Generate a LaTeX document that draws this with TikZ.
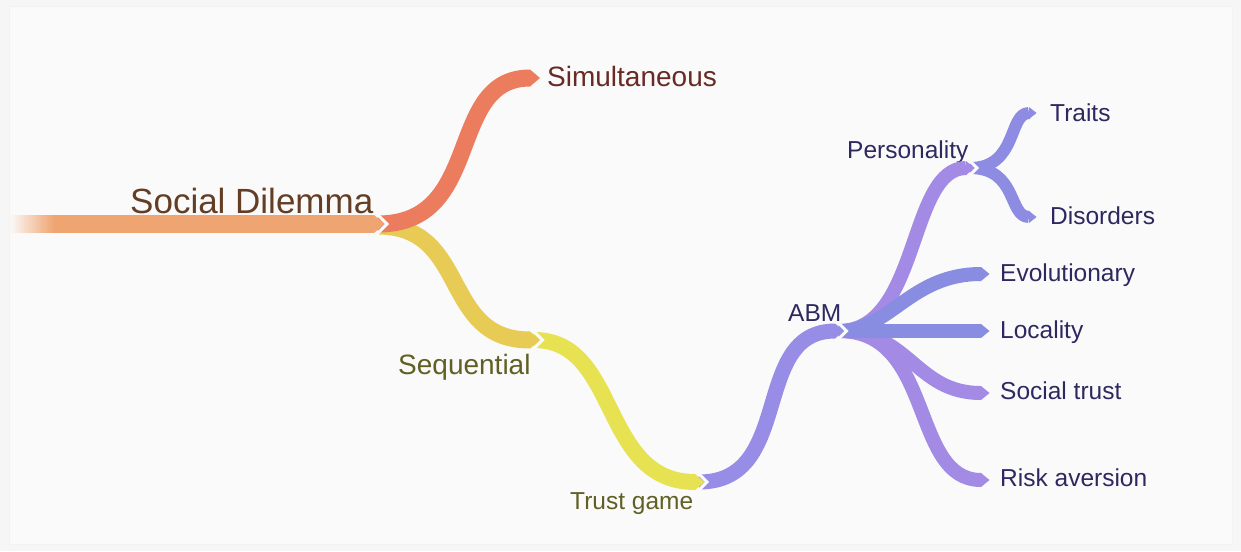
\documentclass[tikz,border=0pt]{standalone}
\usepackage{fontspec}
\setmainfont{Liberation Sans}
\usetikzlibrary{calc}

% palette
\definecolor{bgout}{RGB}{246,246,246}
\definecolor{bg}{RGB}{250,250,250}
\definecolor{frame}{RGB}{242,242,242}
\definecolor{rootc}{RGB}{239,165,113}
\definecolor{simc}{RGB}{236,124,94}
\definecolor{seqc}{RGB}{231,203,84}
\definecolor{tgc}{RGB}{231,226,82}
\definecolor{abmc}{RGB}{152,141,230}
\definecolor{purc}{RGB}{163,138,228}
\definecolor{bluc}{RGB}{136,141,226}
\definecolor{trc}{RGB}{141,140,226}
\definecolor{rootTxt}{RGB}{100,62,36}
\definecolor{simTxt}{RGB}{104,42,36}
\definecolor{seqTxt}{RGB}{96,96,36}
\definecolor{abmTxt}{RGB}{46,40,96}

\tikzset{
  branch/.style={line cap=butt, line join=round},
  lbl/.style={inner sep=0pt, anchor=base west},
  big/.style={font=\fontsize{35}{40}\selectfont},
  mid/.style={font=\fontsize{28}{32}\selectfont},
  small/.style={font=\fontsize{24.5}{28}\selectfont},
}

% pointed end of a branch: #1 coordinate name, #2 half width, #3 colour
\newcommand\brtip[3]{%
  \fill[#3] ([yshift=#2 pt]#1) -- ([xshift=#2 pt+1.5pt]#1) -- ([yshift=-#2 pt]#1) -- cycle;}
% thin gap between a tip and the notched start of its sub-branches
\newcommand\brgap[2]{%
  \draw[bg, line width=3pt, line join=miter]
    ([xshift=2.6pt, yshift=#2 pt+1.5pt]#1) -- ([xshift=#2 pt+4.1pt]#1)
    -- ([xshift=2.6pt, yshift=-#2 pt-1.5pt]#1);}

\begin{document}
\begin{tikzpicture}[x=1pt, y=-1pt]
  \useasboundingbox (0,0) rectangle (1241,551);
  \fill[bgout] (0,0) rectangle (1241,551);
  \fill[bg, draw=frame, line width=1pt] (9,7) rectangle (1232,544);

  % junction and end points of the branches
  \coordinate (r-start)   at (54,224);
  \coordinate (r-end)     at (374,224);
  \coordinate (sim-start) at (378,224);
  \coordinate (sim-end)   at (530,78);
  \coordinate (seq-start) at (378,226);
  \coordinate (seq-end)   at (530,340);
  \coordinate (tg-start)  at (534,340);
  \coordinate (tg-end)    at (695,482);
  \coordinate (abm-start) at (699,482);
  \coordinate (abm-end)   at (835,331);
  \coordinate (abm-out)   at (839,331);
  \coordinate (per-end)   at (966,168);
  \coordinate (per-out)   at (970,168);
  \coordinate (tra-end)   at (1029,113);
  \coordinate (dis-end)   at (1029,217);
  \coordinate (evo-end)   at (981,274);
  \coordinate (loc-end)   at (981,331);
  \coordinate (soc-end)   at (981,393);
  \coordinate (risk-end)  at (981,480);

  % labels
  \node[lbl, big, text=rootTxt]   (social) at (130,213) {Social Dilemma};
  \node[lbl, mid, text=simTxt]    (simul)  at (547,86)  {Simultaneous};
  \node[lbl, mid, text=seqTxt]    (seq)    at (398,374) {Sequential};
  \node[lbl, small, text=seqTxt]  (trust)  at (570,509) {Trust game};
  \node[lbl, small, text=abmTxt]  (abm)    at (788,321) {ABM};
  \node[lbl, small, text=abmTxt]  (pers)   at (847,158) {Personality};
  \node[lbl, small, text=abmTxt]  (traits) at (1050,121) {Traits};
  \node[lbl, small, text=abmTxt]  (disord) at (1050,224) {Disorders};
  \node[lbl, small, text=abmTxt]  (evo)    at (1000,281) {Evolutionary};
  \node[lbl, small, text=abmTxt]  (loc)    at (1000,338) {Locality};
  \node[lbl, small, text=abmTxt]  (soc)    at (1000,399) {Social trust};
  \node[lbl, small, text=abmTxt]  (risk)   at (1000,486) {Risk aversion};

  % branches, outermost first so each parent lies over its children
  \draw[branch, trc, line width=12pt] (per-out) .. controls (1018,168) and (1008,113) .. (tra-end);
  \draw[branch, trc, line width=12pt] (per-out) .. controls (1018,168) and (1008,217) .. (dis-end);
  \draw[branch, purc, line width=14pt] (abm-out) .. controls (920,331) and (908,168) .. (per-end);
  \draw[branch, purc, line width=14pt] (abm-out) .. controls (935,331) and (910,480) .. (risk-end);
  \draw[branch, purc, line width=14pt] (abm-out) .. controls (910,331) and (915,393) .. (soc-end);
  \draw[branch, bluc, line width=14pt] (abm-out) .. controls (890,331) and (910,274) .. (evo-end);
  \draw[branch, bluc, line width=14pt] (abm-out) -- (loc-end);
  \draw[branch, abmc, line width=15pt] (abm-start) .. controls (795,482) and (750,331) .. (abm-end);
  \draw[branch, tgc, line width=16pt] (tg-start) .. controls (620,340) and (600,482) .. (tg-end);
  \draw[branch, seqc, line width=17pt] (seq-start) .. controls (470,226) and (440,340) .. (seq-end);
  \draw[branch, simc, line width=17pt] (sim-start) .. controls (485,224) and (445,78) .. (sim-end);
  % root trunk, fading out towards its free end in small steps
  \draw[branch, rootc, line width=18pt] (r-start) -- (r-end);
  \foreach \i in {0,...,21}{
    \pgfmathtruncatemacro\pc{100*(\i+0.5)/22}
    \fill[rootc!\pc!bg] (10+2*\i,215) rectangle (12.4+2*\i,233);
  }

  % pointed ends
  \brtip{tra-end}{6}{trc}
  \brtip{dis-end}{6}{trc}
  \brtip{per-end}{7}{purc}
  \brtip{risk-end}{7}{purc}
  \brtip{soc-end}{7}{purc}
  \brtip{evo-end}{7}{bluc}
  \brtip{loc-end}{7}{bluc}
  \brtip{abm-end}{7.5}{abmc}
  \brtip{tg-end}{8}{tgc}
  \brtip{seq-end}{8.5}{seqc}
  \brtip{sim-end}{8.5}{simc}
  \brtip{r-end}{9}{rootc}

  % notches where sub-branches start
  \brgap{r-end}{9}
  \brgap{seq-end}{8.5}
  \brgap{tg-end}{8}
  \brgap{abm-end}{7.5}
  \brgap{per-end}{7}
\end{tikzpicture}
\end{document}
